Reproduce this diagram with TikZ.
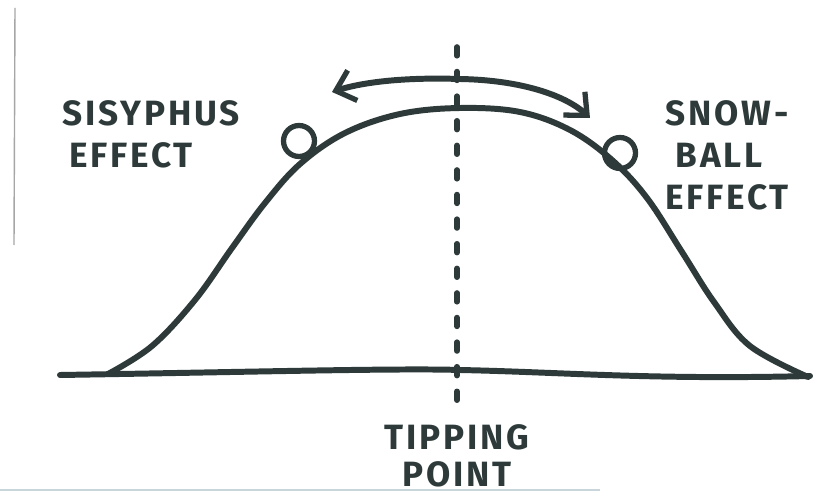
\documentclass[tikz,border=0pt]{standalone}
\usepackage{fontspec}
\setmainfont{Fira Sans}[LetterSpace=8]
\usetikzlibrary{arrows.meta}
\definecolor{ink}{HTML}{2E3A3A}
\tikzset{
  ink line/.style={draw=ink, line width=3.4pt, line cap=round, line join=round},
  label text/.style={text=ink, font=\fontsize{20}{24}\selectfont\bfseries, inner sep=0pt},
  ball/.style={draw=ink, line width=3pt, circle, minimum size=0.62cm, inner sep=0pt},
}
\begin{document}
\begin{tikzpicture}[x=0.02cm, y=-0.02cm]
\useasboundingbox (0,0) rectangle (815,493);
\fill[white] (0,0) rectangle (815,493);
% page edge lines
\draw[gray!70, line width=0.8pt] (15,8) -- (14,245);
\draw[cyan!25!gray!40, line width=1.2pt] (0,490) -- (600,490);
% named points
\coordinate (bl) at (60,375);
\coordinate (br) at (810,376);
\coordinate (dtop) at (457,47);
\coordinate (dbot) at (457,405);
\coordinate (al) at (332,92);
\coordinate (ar) at (590,118);
% baseline
\draw[ink line] (bl) .. controls (250,372) and (400,368) .. (460,370)
  .. controls (560,372) and (650,380) .. (br);
% bell curve
\draw[ink line] plot[smooth, tension=0.6] coordinates {
  (108,374) (152,346) (195,300) (232,248) (265,203) (300,164) (345,133)
  (400,114) (460,108) (520,112) (570,130) (612,160) (647,198) (682,252)
  (714,302) (750,346) (808,377)};
% balls
\node[ball] (lball) at (299,141) {};
\node[ball] (rball) at (620,153) {};
% tipping point dashed line
\draw[draw=ink, line width=3.2pt, line cap=round, dash pattern=on 5pt off 9pt] (dtop) -- (dbot);
% double arrow
\draw[ink line, -{Straight Barb[length=10pt, width=18pt, line width=3pt]}] (460,79) .. controls (400,77) and (360,83) .. (al);
\draw[ink line, -{Straight Barb[length=10pt, width=18pt, line width=3pt]}] (460,79) .. controls (520,80) and (565,95) .. (ar);
% labels
\node[label text, anchor=north west, align=left] (sis) at (62,100) {SISYPHUS\\\hspace*{4pt}EFFECT};
\node[label text, anchor=north west, align=left] (snow) at (665,100) {SNOW-\\\hspace*{6pt}BALL\\EFFECT};
\node[label text, anchor=north, align=center] (tip) at (457,424) {TIPPING\\[-3pt]POINT};
\end{tikzpicture}
\end{document}
